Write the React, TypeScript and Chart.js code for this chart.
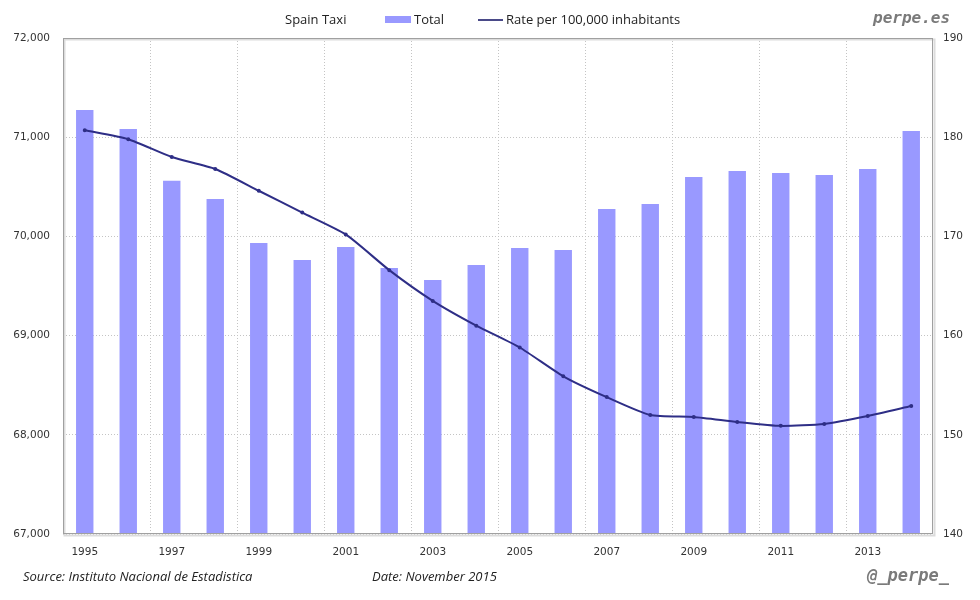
import React, { useEffect, useRef } from "react";
import { Chart, registerables } from "chart.js";

Chart.register(...registerables);

const years = [
  "1995", "1996", "1997", "1998", "1999", "2000", "2001", "2002", "2003", "2004",
  "2005", "2006", "2007", "2008", "2009", "2010", "2011", "2012", "2013", "2014",
];
const totals = [
  71274, 71083, 70560, 70377, 69933, 69762, 69893, 69681, 69560, 69712,
  69883, 69863, 70276, 70327, 70599, 70659, 70639, 70619, 70679, 71062,
];
const rates = [
  180.7, 179.8, 178.0, 176.8, 174.6, 172.4, 170.2, 166.6, 163.5, 161.0,
  158.8, 155.9, 153.8, 152.0, 151.8, 151.3, 150.9, 151.1, 151.9, 152.9,
];
const seriesNames = ["Total", "Rate per 100,000 inhabitants"];
const chartTitle = "Spain Taxi";
const sourceText = "Source: Instituto Nacional de Estadistica";
const dateText = "Date: November 2015";
const siteText = "perpe.es";
const handleText = "@_perpe_";

const BAR_COLOR = "#9999ff";
const LINE_COLOR = "#2e2e86";
const GRID_COLOR = "#c4c4c4";
const TICK_FONT = { family: "'DejaVu Sans', Verdana, sans-serif", size: 10.5 };

const framePlugin = {
  id: "frame",
  afterDraw(chart: any) {
    const { ctx, chartArea: a } = chart;
    ctx.save();
    ctx.strokeStyle = "#dcdcdc";
    ctx.lineWidth = 2;
    ctx.strokeRect(a.left + 1.5, a.top + 1.5, a.right - a.left, a.bottom - a.top);
    ctx.strokeStyle = "#a0a0a0";
    ctx.lineWidth = 1;
    ctx.strokeRect(a.left + 0.5, a.top + 0.5, a.right - a.left - 1, a.bottom - a.top - 1);
    ctx.restore();
  },
};

export default function App() {
  const ref = useRef<HTMLCanvasElement>(null);

  useEffect(() => {
    if (!ref.current) return;
    const chart = new Chart(ref.current, {
      type: "bar",
      data: {
        labels: years,
        datasets: [
          {
            type: "line",
            label: seriesNames[1],
            data: rates,
            yAxisID: "y1",
            borderColor: LINE_COLOR,
            backgroundColor: LINE_COLOR,
            borderWidth: 2,
            pointRadius: 1,
            pointHoverRadius: 1,
            tension: 0.2,
            order: 0,
          } as any,
          {
            type: "bar",
            label: seriesNames[0],
            data: totals,
            yAxisID: "y",
            backgroundColor: BAR_COLOR,
            borderWidth: 0,
            categoryPercentage: 1,
            barPercentage: 0.4,
            order: 1,
          },
        ],
      },
      options: {
        responsive: false,
        animation: false,
        devicePixelRatio: window.devicePixelRatio || 1,
        layout: { padding: { top: 38, left: 0, right: 0, bottom: 0 } },
        plugins: {
          legend: { display: false },
          title: { display: false },
          tooltip: { enabled: false },
        },
        scales: {
          x: {
            offset: true,
            grid: {
              offset: true,
              drawTicks: false,
              color: (c: any) => (c.index % 2 === 0 && c.index !== 0 ? GRID_COLOR : "rgba(0,0,0,0)"),
              tickBorderDash: [1, 2],
            },
            border: { display: false, dash: [1, 2] },
            ticks: {
              autoSkip: false,
              maxRotation: 0,
              padding: 12,
              color: "#333",
              font: TICK_FONT,
              callback: (_v: any, i: number) => (i % 2 === 0 ? years[i] : ""),
            },
            afterFit: (s: any) => {
              s.height = 66;
            },
          } as any,
          y: {
            position: "left",
            min: 67000,
            max: 72000,
            grid: { drawTicks: false, color: GRID_COLOR },
            border: { display: false, dash: [1, 2] },
            ticks: {
              stepSize: 1000,
              padding: 13,
              color: "#333",
              font: TICK_FONT,
              callback: (v: any) => Number(v).toLocaleString("en-US"),
            },
            afterFit: (s: any) => {
              s.width = 63;
            },
          } as any,
          y1: {
            position: "right",
            min: 140,
            max: 190,
            grid: { display: false, drawTicks: false },
            border: { display: false },
            ticks: {
              stepSize: 10,
              padding: 10,
              color: "#333",
              font: TICK_FONT,
            },
            afterFit: (s: any) => {
              s.width = 47;
            },
          } as any,
        },
      },
      plugins: [framePlugin],
    });
    return () => chart.destroy();
  }, []);

  const legendFont = "'Open Sans', 'Noto Sans', sans-serif";
  const text = (style: React.CSSProperties): React.CSSProperties => ({
    position: "absolute",
    whiteSpace: "nowrap",
    margin: 0,
    ...style,
  });

  return (
    <div style={{ position: "absolute", left: 0, top: 0, width: 980, height: 600, background: "#fff", overflow: "hidden" }}>
      <canvas ref={ref} width={980} height={600} style={{ position: "absolute", left: 0, top: 0, width: 980, height: 600 }} />
      <div style={text({ left: 285, top: 11, fontFamily: legendFont, fontSize: 13, lineHeight: "16px", color: "#222" })}>{chartTitle}</div>
      <div style={{ position: "absolute", left: 385, top: 16, width: 26, height: 7, background: BAR_COLOR }} />
      <div style={text({ left: 414, top: 11, fontFamily: legendFont, fontSize: 13, lineHeight: "16px", color: "#222" })}>{seriesNames[0]}</div>
      <div style={{ position: "absolute", left: 478, top: 19, width: 25, height: 1.5, background: "#4a4a88" }} />
      <div style={text({ left: 506, top: 11, fontFamily: legendFont, fontSize: 13, lineHeight: "16px", color: "#222" })}>{seriesNames[1]}</div>
      <div style={text({ left: 873, top: 8, fontFamily: "'DejaVu Sans Mono', monospace", fontWeight: "bold", fontStyle: "italic", fontSize: 16, lineHeight: "20px", color: "#7a7a7a" })}>{siteText}</div>
      <div style={text({ left: 23, top: 567, fontFamily: legendFont, fontStyle: "italic", fontSize: 13, lineHeight: "18px", color: "#222" })}>{sourceText}</div>
      <div style={text({ left: 372, top: 567, fontFamily: legendFont, fontStyle: "italic", fontSize: 13, lineHeight: "18px", color: "#222" })}>{dateText}</div>
      <div style={text({ left: 867, top: 564, fontFamily: "'DejaVu Sans Mono', monospace", fontWeight: "bold", fontStyle: "italic", fontSize: 17, lineHeight: "22px", color: "#7a7a7a" })}>{handleText}</div>
    </div>
  );
}
